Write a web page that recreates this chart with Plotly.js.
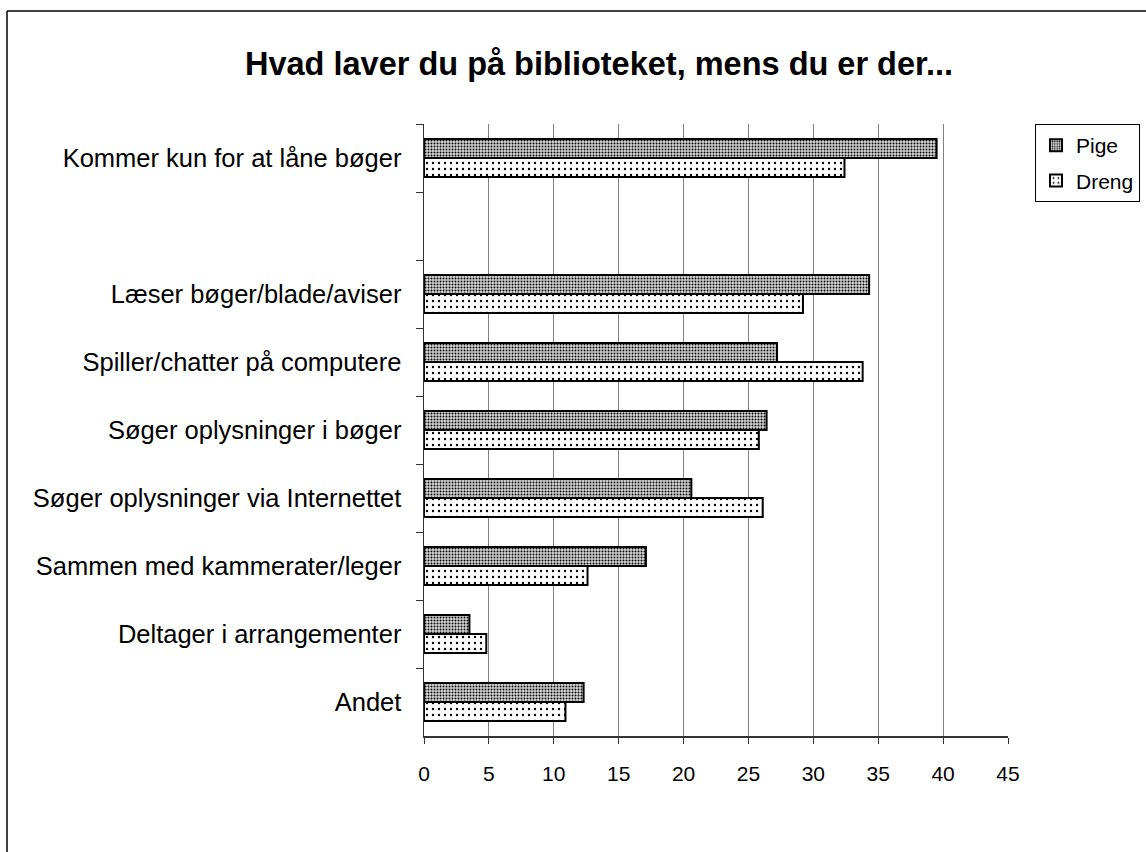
<!DOCTYPE html>
<html>
<head>
<meta charset="utf-8">
<script src="https://cdn.plot.ly/plotly-3.0.1.min.js"></script>
<style>
html,body{margin:0;padding:0;background:#fff;overflow:hidden;}
#chart{width:1146px;height:852px;}
</style>
</head>
<body>
<div id="chart"></div>
<script>
const categories = [
  "Kommer kun for at låne bøger",
  " ",
  "Læser bøger/blade/aviser",
  "Spiller/chatter på computere",
  "Søger oplysninger i bøger",
  "Søger oplysninger via Internettet",
  "Sammen med kammerater/leger",
  "Deltager i arrangementer",
  "Andet"
];
const pige  = [39.5, null, 34.3, 27.2, 26.4, 20.6, 17.1, 3.5, 12.3];
const dreng = [32.4, null, 29.2, 33.8, 25.8, 26.1, 12.6, 4.8, 10.9];
const xTicks = [0,5,10,15,20,25,30,35,40,45];
const titleText = "Hvad laver du på biblioteket, mens du er der...";

const L = 424, R = 1008, T = 124, B = 736, W = 1146, H = 852;
const pw = R - L, ph = B - T;

const traces = [
  {
    type: 'bar', orientation: 'h', name: 'Pige', legendgroup: 'a',
    y: categories, x: pige,
    marker: {
      color: '#ffffff',
      line: {color: '#000000', width: 2},
      pattern: {shape: '.', fgcolor: '#000000', bgcolor: '#d8d8d8', size: 3, solidity: 0.35}
    }
  },
  {
    type: 'bar', orientation: 'h', name: 'Dreng', legendgroup: 'b',
    y: categories, x: dreng,
    marker: {
      color: '#ffffff',
      line: {color: '#000000', width: 2},
      pattern: {shape: '.', fgcolor: '#000000', bgcolor: '#ffffff', size: 6, solidity: 0.12}
    }
  }
];

const layout = {
  width: W, height: H,
  paper_bgcolor: '#ffffff', plot_bgcolor: '#ffffff',
  font: {family: 'Liberation Sans, Arial, sans-serif', size: 22, color: '#000000'},
  margin: {l: L, r: W - R, t: T, b: H - B, pad: 0, autoexpand: false},
  title: {
    text: '<b>' + titleText + '</b>',
    font: {family: 'Liberation Sans, Arial, sans-serif', size: 32.5, color: '#000000'},
    xref: 'container', yref: 'container',
    x: 599 / W, xanchor: 'center',
    y: 1 - 64 / H, yanchor: 'middle'
  },
  barmode: 'group',
  bargap: 0.44,
  bargroupgap: 0,
  showlegend: true,
  legend: {
    x: (1035 - L) / pw, xanchor: 'left',
    y: 1, yanchor: 'top',
    xref: 'paper', yref: 'paper',
    bordercolor: '#000000', borderwidth: 1, bgcolor: '#ffffff',
    font: {size: 21},
    itemwidth: 30,
    tracegroupgap: 5,
    traceorder: 'grouped'
  },
  xaxis: {
    range: [0, 45],
    tickvals: xTicks,
    ticktext: xTicks.map(String),
    showgrid: true, gridcolor: '#808080', gridwidth: 1,
    zeroline: false,
    showline: true, linecolor: '#333333', linewidth: 1.5,
    ticks: 'outside', ticklen: 6, tickcolor: '#333333', tickwidth: 1,
    ticklabelstandoff: 12,
    tickfont: {size: 21},
    fixedrange: true
  },
  yaxis: {
    type: 'category',
    categoryorder: 'array', categoryarray: categories,
    autorange: 'reversed',
    showgrid: false,
    zeroline: false,
    showline: true, linecolor: '#333333', linewidth: 1.5,
    ticks: 'outside', ticklen: 7, tickcolor: '#333333', tickwidth: 1,
    tickson: 'boundaries',
    ticklabelstandoff: 16,
    tickfont: {size: 25.5},
    fixedrange: true
  },
  shapes: [
    {
      type: 'line', xref: 'paper', yref: 'paper',
      x0: (7 - L) / pw, x1: (W + 5 - L) / pw,
      y0: (B - 11) / ph, y1: (B - 11) / ph,
      line: {color: '#000000', width: 1.5}
    },
    {
      type: 'line', xref: 'paper', yref: 'paper',
      x0: (7 - L) / pw, x1: (7 - L) / pw,
      y0: (B - 11) / ph, y1: (B - H - 5) / ph,
      line: {color: '#000000', width: 1.5}
    }
  ]
};

Plotly.newPlot('chart', traces, layout, {staticPlot: true, displayModeBar: false});
</script>
</body>
</html>
